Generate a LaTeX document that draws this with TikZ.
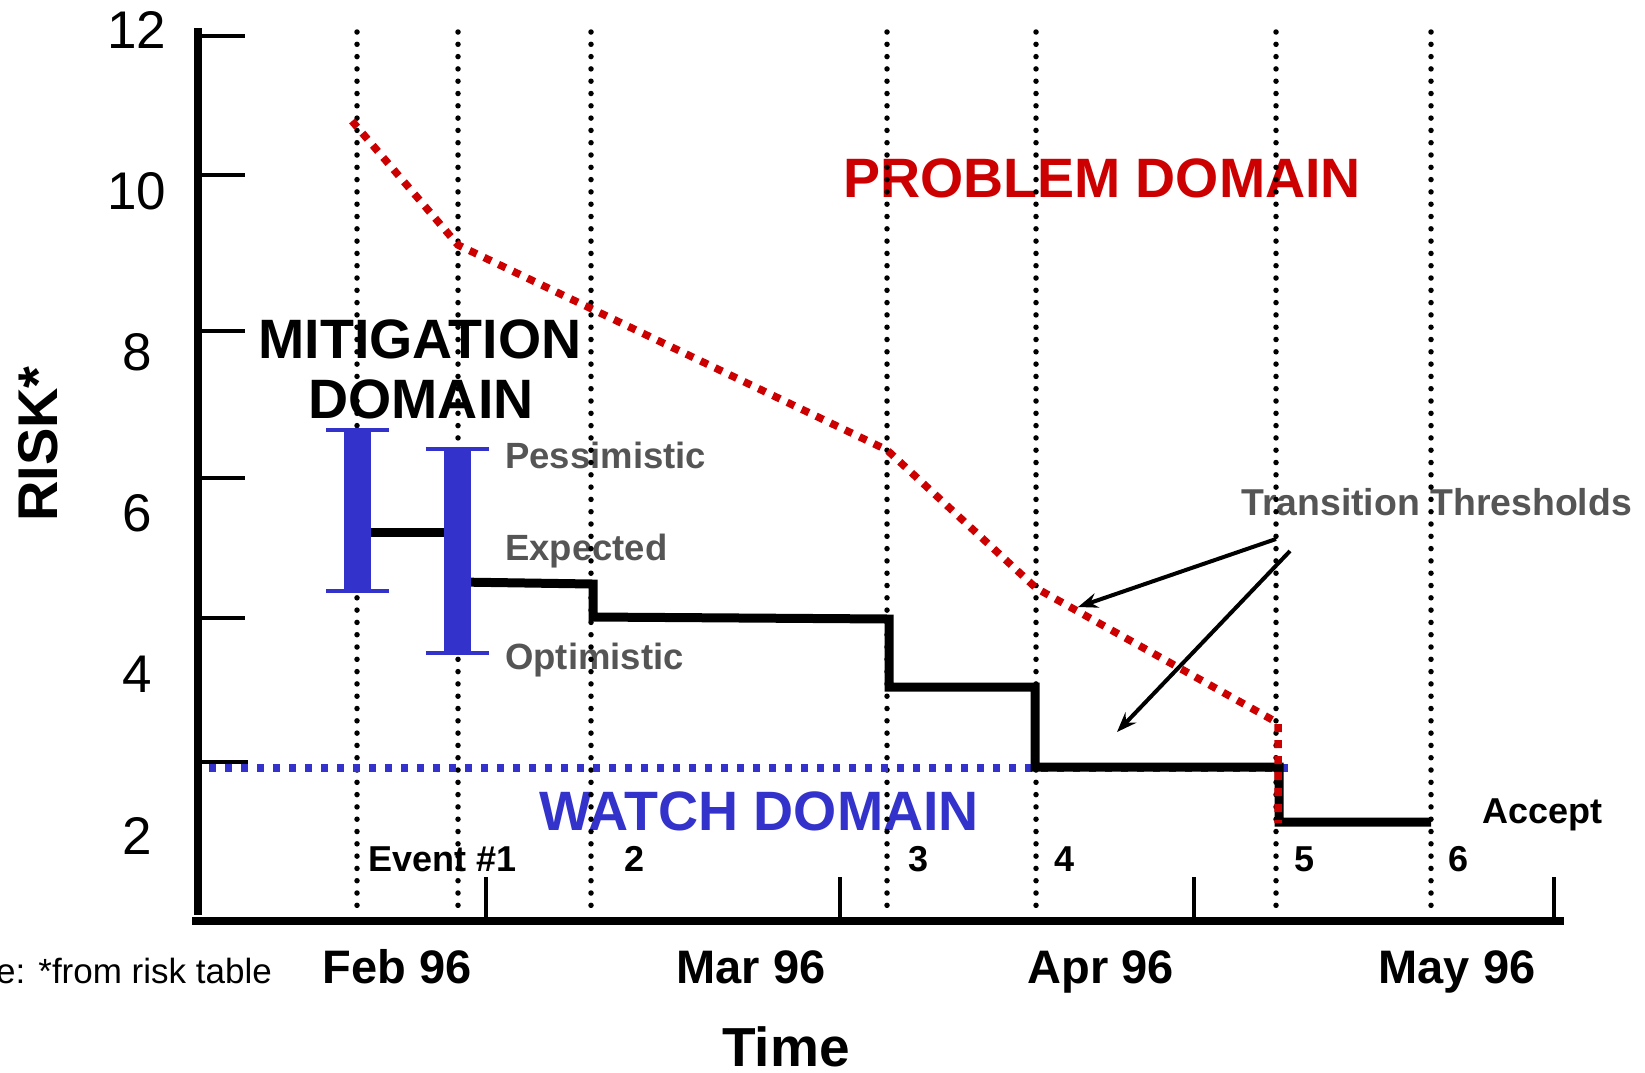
\documentclass[tikz,border=0pt]{standalone}
\usepackage{fontspec}
\setmainfont{Liberation Sans}
\usetikzlibrary{arrows.meta}

\definecolor{riskred}{RGB}{204,0,0}
\definecolor{riskblue}{RGB}{51,51,204}
\definecolor{riskgray}{RGB}{85,85,85}

\begin{document}
\begin{tikzpicture}[x=1pt,y=-1pt,
                every node/.style={inner sep=0pt},
                domaintext/.style={font=\bfseries\fontsize{55.5}{60}\selectfont},
                scenario/.style={font=\bfseries\fontsize{36.5}{40}\selectfont, text=riskgray, anchor=base west},
                eventtext/.style={font=\bfseries\fontsize{36}{40}\selectfont, anchor=base west},
                monthtext/.style={font=\bfseries\fontsize{47}{50}\selectfont, anchor=base},
                evline/.style={line width=5.5pt, line cap=round, dash pattern=on 0pt off 12.3pt},
                stepline/.style={line width=9pt},
                redline/.style={riskred, line width=7.5pt, dash pattern=on 8pt off 8pt},
                watchline/.style={riskblue, line width=7.5pt, dash pattern=on 7pt off 9pt},
                thrarrow/.style={line width=4pt, -{Stealth[length=20pt, width=15pt, inset=7pt]}}]
                \useasboundingbox (0,0) rectangle (1645,1072);

                \coordinate (T1) at (1276,539);
                \coordinate (T2) at (1290,551);
                \coordinate (H1) at (1078,607);
                \coordinate (H2) at (1117,732);

                \foreach \val [count=\i] in {12,10,8,6,4,2}
                \node[font=\fontsize{53}{60}\selectfont, anchor=base] (y\val) at (137,{48+161.2*(\i-1)}) {\val};
                \node[font=\bfseries\fontsize{56}{60}\selectfont, rotate=90, anchor=base] (risk) at (57,444) {RISK*};

                \node[domaintext, anchor=base] (mitiga) at (420,358) {MITIGATION};
                \node[domaintext, anchor=base] (mitigb) at (421,418) {DOMAIN};
                \node[domaintext, text=riskred, anchor=base] (problem) at (1102,197) {PROBLEM DOMAIN};
                \node[domaintext, text=riskblue, anchor=base] (watch) at (759,830) {WATCH DOMAIN};

                \node[scenario] (pess) at (505,468) {Pessimistic};
                \node[scenario] (expd) at (505,560) {Expected};
                \node[scenario] (opti) at (505,669) {Optimistic};
                \node[scenario, font=\bfseries\fontsize{37.4}{40}\selectfont] (thresh) at (1241,515) {Transition Thresholds};
                \node[eventtext] (accept) at (1482,823) {Accept};

                \node[eventtext] (ev1) at (368,871) {Event \#1};
                \foreach \num/\x in {2/624, 3/908, 4/1054, 5/1294, 6/1448}
                \node[eventtext] (ev\num) at (\x,871) {\num};

                \foreach \name/\x/\label in {feb/397/Feb 96, mar/751/Mar 96, apr/1101/Apr 96, may/1457/May 96}
                \node[monthtext] (\name) at (\x,983) {\label};
                \node[font=\bfseries\fontsize{55}{60}\selectfont, anchor=base] (time) at (786,1066) {Time};
                \node[font=\fontsize{35}{40}\selectfont, anchor=base east] (note) at (272,983) {e: *from risk table};

                \foreach \x in {357,458,591,887,1036,1276,1431}
                \draw[evline] (\x,32) -- (\x,916);

                \draw[line width=8pt] (198,28) -- (198,915);
                \draw[line width=8pt] (192,921) -- (1564,921);
                \foreach \y in {36,175,331,478,618}
                \draw[line width=3.7pt] (198,\y) -- (245,\y);
                \draw[line width=3.7pt] (198,762) -- (248,762);
                \foreach \x in {486,840,1194,1554}
                \draw[line width=4pt] (\x,877) -- (\x,921);

                \draw[watchline] (209,768) -- (1288,768);

                \draw[stepline] (357,532) -- (458,532);
                \draw[stepline] (458,582) -- (593,584) -- (593,617) -- (889,619) -- (889,687)
                        -- (1035,687) -- (1035,767) -- (1279,767) -- (1279,822) -- (1431,822);

                \draw[redline] (352,121) -- (458,245) -- (887,450) -- (1036,588) -- (1278,723) -- (1278,823);

                \foreach \x/\top/\bot in {357.5/430/591, 457/449/653} {
                \fill[riskblue] (\x-13.5,\top) rectangle (\x+13.5,\bot);
                \draw[riskblue, line width=4.6pt] (\x-31.5,\top) -- (\x+31.5,\top);
                \draw[riskblue, line width=4.6pt] (\x-31.5,\bot) -- (\x+31.5,\bot);
                }

                \draw[thrarrow] (T1) -- (H1);
                \draw[thrarrow] (T2) -- (H2);
            \end{tikzpicture}
\end{document}
